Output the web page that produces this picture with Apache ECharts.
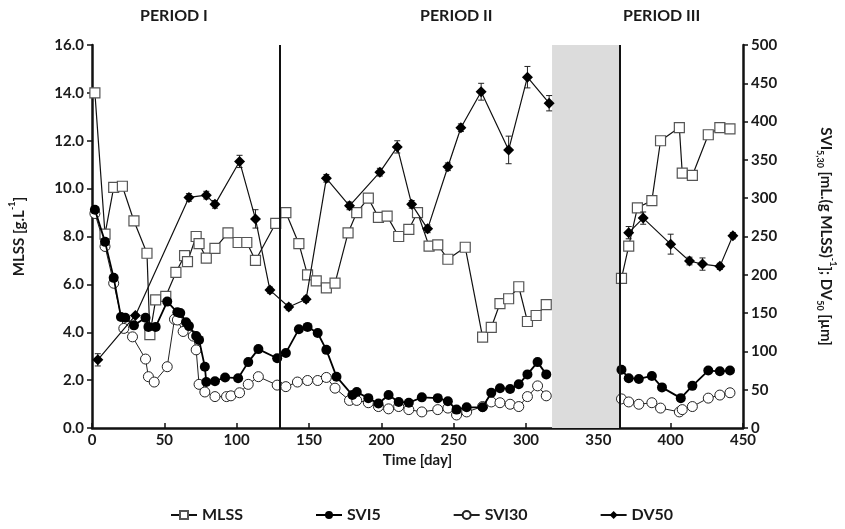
<!DOCTYPE html>
<html>
<head>
<meta charset="utf-8">
<script src="https://cdn.jsdelivr.net/npm/echarts@6/dist/echarts.min.js"></script>
<style>
  html, body { margin: 0; padding: 0; background: #fff; }
  #main { width: 845px; height: 529px; }
</style>
</head>
<body>
<div id="main"></div>
<script>
// MLSS [g/L] (left axis)
var mlssDays = [2, 9, 15, 21, 29, 38, 40, 44, 51, 58, 64, 66, 72, 74, 79, 85, 94, 101, 107, 113, 127,
  134, 143, 149, 155, 162, 168, 177, 183, 191, 198, 204, 212, 219, 225, 233, 239, 246, 258, 270, 276, 282, 288, 295, 301, 307, 314,
  366, 371, 377, 387, 393, 406, 408, 415, 426, 434, 441];
var mlssVals = [14.0, 8.1, 10.05, 10.1, 8.65, 7.3, 3.9, 5.35, 5.5, 6.5, 7.2, 6.95, 8.0, 7.7, 7.1, 7.5, 8.15, 7.75, 7.75, 7.0, 8.55,
  9.0, 7.7, 6.4, 6.15, 5.85, 6.05, 8.15, 9.0, 9.6, 8.8, 8.85, 8.0, 8.3, 9.0, 7.6, 7.65, 7.05, 7.55, 3.8, 4.2, 5.2, 5.4, 5.9, 4.45, 4.7, 5.15,
  6.25, 7.6, 9.2, 9.5, 12.0, 12.55, 10.65, 10.55, 12.25, 12.55, 12.5];

// SVI5 [mL/g] (right axis)
var svi5Days = [2, 9, 15, 20, 23, 29, 37, 39, 44, 52, 59, 61, 65, 67, 72, 74, 78, 79, 85, 92, 101, 108, 115, 128,
  134, 143, 149, 156, 162, 169, 180, 183, 191, 198, 205, 212, 219, 228, 239, 246, 252, 259, 270, 276, 282, 289, 295, 301, 308, 314,
  366, 371, 378, 387, 394, 407, 415, 426, 434, 441];
var svi5Vals = [285, 243, 196, 145, 144, 134, 144, 132, 132, 165, 151, 150, 138, 133, 120, 115, 80, 60, 61, 66, 65, 86, 103, 91,
  98, 129, 132, 124, 102, 67, 43, 47, 39, 32, 43, 34, 33, 40, 39, 35, 24, 27, 27, 46, 52, 51, 57, 70, 86, 70,
  76, 65, 64, 68, 53, 39, 55, 75, 74, 75];

// SVI30 [mL/g] (right axis)
var svi30Days = [2, 9, 15, 22, 28, 37, 39, 43, 52, 57, 59, 63, 70, 72, 74, 78, 85, 93, 96, 102, 108, 115, 128,
  134, 142, 149, 156, 162, 168, 178, 183, 191, 198, 205, 212, 219, 228, 239, 246, 252, 259, 270, 276, 282, 289, 295, 301, 308, 314,
  366, 371, 378, 387, 393, 406, 408, 415, 426, 434, 441];
var svi30Vals = [280, 237, 189, 130, 119, 90, 67, 60, 80, 142, 141, 126, 120, 102, 57, 47, 41, 41, 42, 46, 57, 67, 56,
  54, 60, 62, 62, 66, 52, 36, 36, 33, 28, 25, 28, 24, 21, 24, 26, 17, 21, 28, 34, 33, 31, 28, 41, 55, 42,
  38, 34, 31, 33, 26, 21, 24, 28, 39, 43, 46];

// DV50 [um] (right axis) with error
var dv50Days = [4, 30, 67, 79, 85, 102, 113, 123, 136, 148, 162, 178, 199, 211, 221, 232, 246, 255, 269, 288, 301, 316,
  371, 381, 400, 413, 422, 434, 443];
var dv50Vals = [89, 147, 301, 304, 292, 348, 273, 180, 158, 168, 326, 290, 334, 367, 292, 260, 341, 392, 439, 363, 458, 424,
  255, 274, 240, 218, 214, 211, 251];
var dv50Err = [8, 0, 5, 5, 5, 8, 12, 4, 4, 4, 5, 5, 5, 8, 5, 5, 5, 5, 11, 18, 14, 10,
  8, 8, 13, 5, 8, 4, 4];

var periodLabels = ['PERIOD I', 'PERIOD II', 'PERIOD III'];
var periodBounds = [130, 365];
var gapRange = [318, 365];

// pair days with values, breaking the line inside the grey gap
function zip(a, b) {
  var out = [];
  var broken = false;
  for (var i = 0; i < a.length; i++) {
    if (!broken && a[i] > gapRange[0]) {
      out.push([(gapRange[0] + gapRange[1]) / 2, '-']);
      broken = true;
    }
    out.push([a[i], b[i]]);
  }
  return out;
}

var FONT = 'Lato';
var TXT = '#1a1a1a';

var myChart = echarts.init(document.getElementById('main'));

var errData = [];
for (var i = 0; i < dv50Days.length; i++) {
  if (dv50Err[i] > 0) errData.push([dv50Days[i], dv50Vals[i] - dv50Err[i], dv50Vals[i] + dv50Err[i]]);
}

var option = {
  backgroundColor: '#fff',
  animation: false,
  textStyle: { fontFamily: FONT },
  graphic: [
    { type: 'text', left: 140, top: 8, style: { text: periodLabels[0], font: 'bold 16px ' + FONT, fill: TXT } },
    { type: 'text', left: 420, top: 8, style: { text: periodLabels[1], font: 'bold 16px ' + FONT, fill: TXT } },
    { type: 'text', left: 623, top: 8, style: { text: periodLabels[2], font: 'bold 16px ' + FONT, fill: TXT } }
  ],
  grid: { left: 87, right: 95, top: 45, bottom: 101 },
  legend: {
    bottom: 1,
    left: 165,
    itemGap: 72,
    itemWidth: 26,
    itemHeight: 10,
    textStyle: { fontFamily: FONT, fontWeight: 'bold', fontSize: 16, color: TXT },
    data: ['MLSS', 'SVI5', 'SVI30', 'DV50']
  },
  xAxis: {
    type: 'value',
    min: 0, max: 450, interval: 50,
    name: 'Time [day]',
    nameLocation: 'middle',
    nameGap: 24,
    nameTextStyle: { fontFamily: FONT, fontWeight: 'bold', fontSize: 15, color: TXT },
    axisLine: { lineStyle: { color: '#111', width: 2.5 } },
    axisTick: { inside: true, length: 5, lineStyle: { color: '#111', width: 1.5 } },
    axisLabel: { fontFamily: FONT, fontWeight: 'bold', fontSize: 15, color: TXT, margin: 5 },
    splitLine: { show: false }
  },
  yAxis: [{
    type: 'value',
    min: 0, max: 16, interval: 2,
    name: 'MLSS [g.L{sup|-1}]',
    nameLocation: 'middle',
    nameGap: 62,
    nameTextStyle: {
      fontFamily: FONT, fontWeight: 'bold', fontSize: 15, color: TXT, lineHeight: 22,
      rich: { sup: { fontFamily: FONT, fontWeight: 'bold', fontSize: 9, color: TXT, verticalAlign: 'top', lineHeight: 22 } }
    },
    axisLine: { show: true, lineStyle: { color: '#111', width: 2.5 } },
    axisTick: { show: true, length: 5, lineStyle: { color: '#111', width: 1.5 } },
    axisLabel: { fontFamily: FONT, fontWeight: 'bold', fontSize: 15, color: TXT, margin: 8,
      formatter: function (v) { return v.toFixed(1); } },
    splitLine: { show: false }
  }, {
    type: 'value',
    min: 0, max: 500, interval: 50,
    name: 'SVI{sub|5,30} [mL.(g MLSS){sup|-1}]; DV{sub|50} [µm]',
    nameLocation: 'middle',
    nameRotate: -90,
    nameGap: 72,
    nameTextStyle: {
      fontFamily: FONT, fontWeight: 'bold', fontSize: 15, color: TXT, lineHeight: 22,
      rich: {
        sup: { fontFamily: FONT, fontWeight: 'bold', fontSize: 9, color: TXT, verticalAlign: 'top', lineHeight: 22 },
        sub: { fontFamily: FONT, fontWeight: 'bold', fontSize: 9, color: TXT, verticalAlign: 'bottom', lineHeight: 22 }
      }
    },
    axisLine: { show: true, lineStyle: { color: '#111', width: 2.5 } },
    axisTick: { show: true, length: 5, lineStyle: { color: '#111', width: 1.5 } },
    axisLabel: { fontFamily: FONT, fontWeight: 'bold', fontSize: 15, color: TXT, margin: 8 },
    splitLine: { show: false }
  }],
  series: [{
    name: 'MLSS',
    type: 'line',
    yAxisIndex: 0,
    data: zip(mlssDays, mlssVals),
    connectNulls: false,
    symbol: 'rect',
    symbolSize: 10,
    z: 3,
    itemStyle: { color: '#fff', borderColor: '#555', borderWidth: 1.2 },
    lineStyle: { color: '#111', width: 1.2 },
    markArea: {
      silent: true,
      itemStyle: { color: '#dcdcdc' },
      data: [[{ xAxis: gapRange[0] }, { xAxis: gapRange[1] }]]
    },
    markLine: {
      silent: true,
      symbol: 'none',
      label: { show: false },
      lineStyle: { color: '#111', width: 2, type: 'solid' },
      data: [{ xAxis: periodBounds[0] }, { xAxis: periodBounds[1] }]
    }
  }, {
    name: 'SVI5',
    type: 'line',
    yAxisIndex: 1,
    data: zip(svi5Days, svi5Vals),
    connectNulls: false,
    symbol: 'circle',
    symbolSize: 10,
    z: 4,
    itemStyle: { color: '#000', borderColor: '#000', borderWidth: 0 },
    lineStyle: { color: '#000', width: 1.8 }
  }, {
    name: 'SVI30',
    type: 'line',
    yAxisIndex: 1,
    data: zip(svi30Days, svi30Vals),
    connectNulls: false,
    symbol: 'circle',
    symbolSize: 10,
    z: 3,
    itemStyle: { color: '#fff', borderColor: '#222', borderWidth: 1 },
    lineStyle: { color: '#222', width: 1 }
  }, {
    name: 'DV50',
    type: 'line',
    yAxisIndex: 1,
    data: zip(dv50Days, dv50Vals),
    connectNulls: false,
    symbol: 'diamond',
    symbolSize: 11,
    z: 5,
    itemStyle: { color: '#000' },
    lineStyle: { color: '#111', width: 1.2 }
  }, {
    name: 'DV50err',
    type: 'custom',
    yAxisIndex: 1,
    z: 5,
    silent: true,
    data: errData,
    renderItem: function (params, api) {
      var x = api.coord([api.value(0), 0])[0];
      var lo = api.coord([api.value(0), api.value(1)])[1];
      var hi = api.coord([api.value(0), api.value(2)])[1];
      var st = { stroke: '#222', lineWidth: 1 };
      return {
        type: 'group',
        children: [
          { type: 'line', shape: { x1: x, y1: lo, x2: x, y2: hi }, style: st },
          { type: 'line', shape: { x1: x - 3, y1: lo, x2: x + 3, y2: lo }, style: st },
          { type: 'line', shape: { x1: x - 3, y1: hi, x2: x + 3, y2: hi }, style: st }
        ]
      };
    }
  }]
};

myChart.setOption(option);
</script>
</body>
</html>
